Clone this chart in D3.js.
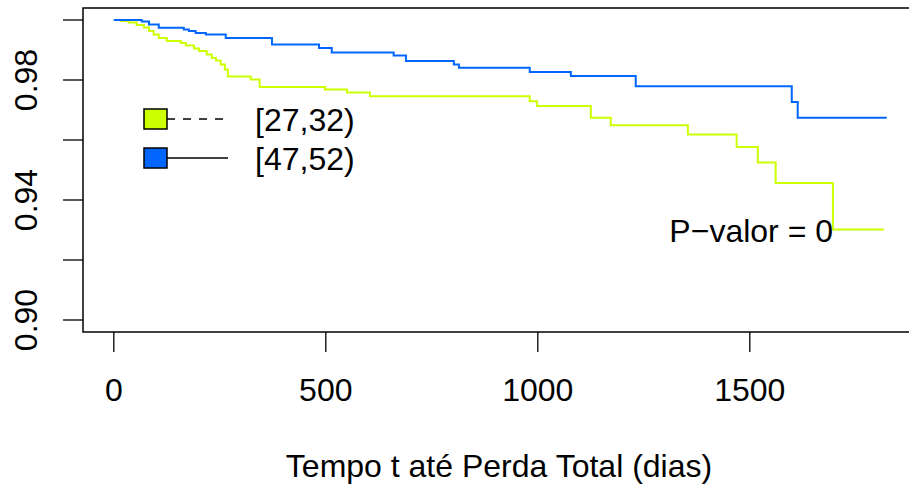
<!DOCTYPE html>
<html>
<head>
<meta charset="utf-8">
<script src="https://cdn.jsdelivr.net/npm/d3@7"></script>
<style>
  html, body { margin: 0; padding: 0; background: #fff; }
  svg { display: block; }
  text { font-family: "Liberation Sans", Arial, Helvetica, sans-serif; fill: #000; }
</style>
</head>
<body>
<svg id="chart" width="909" height="492"></svg>
<script>
// ---- data ----
const groupLabels = ["[27,32)", "[47,52)"];
const groupColors = ["#CCFF00", "#0066FF"];
const legendDash = ["8,8", null];

// [27,32)
const timesA = [0,17,35,54,71,83,94,106,125,158,170,189,201,219,231,241,252,262,269,323,344,498,550,604,981,998,1125,1172,1354,1469,1519,1561,1696];
const survA  = [1.0000,0.9997,0.9992,0.9983,0.9975,0.9963,0.9952,0.9940,0.9930,0.9923,0.9915,0.9905,0.9897,0.9885,0.9873,0.9865,0.9852,0.9835,0.9812,0.9802,0.9777,0.9768,0.9758,0.9746,0.9729,0.9713,0.9674,0.9649,0.9618,0.9577,0.9525,0.9457,0.9302];
const endA = 1816;

// [47,52)
const timesB = [0,66,83,106,165,177,193,217,264,373,484,514,660,689,802,814,981,1078,1231,1599,1613];
const survB  = [1.0000,0.9995,0.9985,0.9974,0.9968,0.9963,0.9957,0.9952,0.9940,0.9918,0.9907,0.9892,0.9882,0.9863,0.9852,0.9841,0.9827,0.9813,0.9779,0.9727,0.9674];
const endB = 1823;

const xTicks = [0, 500, 1000, 1500];
const yTicks = [0.90, 0.92, 0.94, 0.96, 0.98, 1.00];
const yTickLabels = ["0.90", "", "0.94", "", "0.98", ""];
const xTitle = "Tempo t até Perda Total (dias)";
const pText = "P\u2212valor = 0";

// ---- layout ----
const svg = d3.select("#chart");
const plot = { left: 83, top: 8, right: 915, bottom: 332 };
const fs = 32;

const xlimMax = 1817;
const xpad = 0.04 * xlimMax;
const x = d3.scaleLinear().domain([-xpad, xlimMax + xpad]).range([plot.left, plot.right]);
const y = d3.scaleLinear().domain([0.896, 1.004]).range([plot.bottom, plot.top]);

// curves
const line = d3.line().x(d => x(d[0])).y(d => y(d[1])).curve(d3.curveStepAfter);
const series = [
  { t: timesA, s: survA, end: endA },
  { t: timesB, s: survB, end: endB }
];
series.forEach((sr, i) => {
  const pts = sr.t.map((t, k) => [t, sr.s[k]]);
  pts.push([sr.end, sr.s[sr.s.length - 1]]);
  svg.append("path")
    .attr("d", line(pts))
    .attr("fill", "none")
    .attr("stroke", groupColors[i])
    .attr("stroke-width", 2);
});

// box
svg.append("rect")
  .attr("x", plot.left).attr("y", plot.top)
  .attr("width", plot.right - plot.left).attr("height", plot.bottom - plot.top)
  .attr("fill", "none").attr("stroke", "#000").attr("stroke-width", 1.5);

// x axis
const xAxis = svg.append("g");
xAxis.selectAll("line").data(xTicks).enter().append("line")
  .attr("x1", d => x(d)).attr("x2", d => x(d))
  .attr("y1", plot.bottom).attr("y2", plot.bottom + 20)
  .attr("stroke", "#000").attr("stroke-width", 1.3);
xAxis.selectAll("text").data(xTicks).enter().append("text")
  .attr("x", d => x(d)).attr("y", 401)
  .attr("text-anchor", "middle").attr("font-size", fs)
  .text(d => d3.format("d")(d));

// y axis
const yAxis = svg.append("g");
yAxis.selectAll("line").data(yTicks).enter().append("line")
  .attr("x1", plot.left - 20).attr("x2", plot.left)
  .attr("y1", d => y(d)).attr("y2", d => y(d))
  .attr("stroke", "#000").attr("stroke-width", 1.3);
yAxis.selectAll("text").data(yTicks).enter().append("text")
  .attr("transform", d => `translate(37,${y(d)}) rotate(-90)`)
  .attr("text-anchor", "middle").attr("font-size", fs)
  .text((d, i) => yTickLabels[i]);

// x title
svg.append("text")
  .attr("x", (plot.left + plot.right) / 2).attr("y", 477)
  .attr("text-anchor", "middle").attr("font-size", fs)
  .text(xTitle);

// p-value
svg.append("text")
  .attr("x", 833).attr("y", 242)
  .attr("text-anchor", "end").attr("font-size", fs)
  .text(pText);

// legend
const legRows = [119, 158];
groupLabels.forEach((lab, i) => {
  const cy = legRows[i];
  const g = svg.append("g");
  g.append("line")
    .attr("x1", 167).attr("x2", 228).attr("y1", cy).attr("y2", cy)
    .attr("stroke", "#000").attr("stroke-width", 1.3)
    .attr("stroke-dasharray", legendDash[i]);
  g.append("rect")
    .attr("x", 144).attr("y", cy - 10).attr("width", 23).attr("height", 20)
    .attr("fill", groupColors[i]).attr("stroke", "#000").attr("stroke-width", 1.5);
  g.append("text")
    .attr("x", 255).attr("y", cy + 12)
    .attr("font-size", fs)
    .text(lab);
});
</script>
</body>
</html>
